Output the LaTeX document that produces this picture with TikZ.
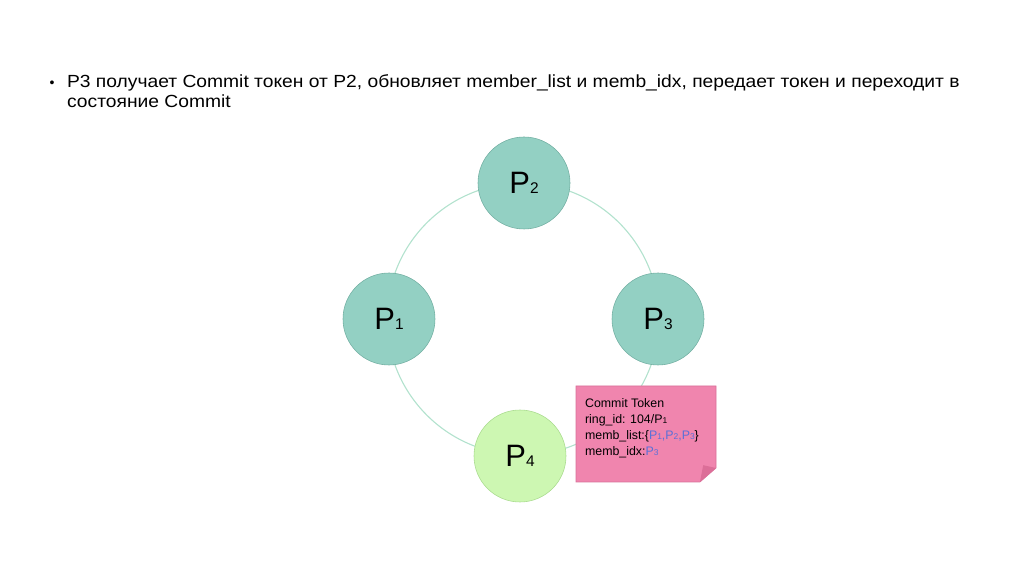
\documentclass[tikz,border=0pt]{standalone}
\usepackage{fontspec}
\setmainfont{Liberation Sans}
\newfontfamily\slidefont[FakeStretch=1.096]{Liberation Sans}
\definecolor{ringline}{HTML}{B3E2CE}
\definecolor{tealfill}{HTML}{93D0C3}
\definecolor{tealedge}{HTML}{72AFA2}
\definecolor{limefill}{HTML}{CDF7B2}
\definecolor{limeedge}{HTML}{A9DB8E}
\definecolor{notefill}{HTML}{F085AE}
\definecolor{noteedge}{HTML}{D8709A}
\definecolor{notefold}{HTML}{DC6E98}
\definecolor{tokblue}{HTML}{5A70D8}
\newcommand{\pname}[1]{P{\fontsize{11}{11}\selectfont #1}}
\newcommand{\psmall}[1]{P{\fontsize{6}{6}\selectfont #1}}
\tikzset{
  proc/.style={circle, draw=tealedge, fill=tealfill, minimum size=2.3cm, inner sep=0pt,
    font=\fontsize{22}{22}\selectfont},
  proclast/.style={proc, draw=limeedge, fill=limefill},
  ringpath/.style={draw=ringline, line width=0.8pt},
}
\begin{document}
\begin{tikzpicture}
  \useasboundingbox (0,0) rectangle (25.6,14.35);
  % bullet text
  \node[inner sep=0pt, font=\fontsize{10}{10}\selectfont] (bullet) at (1.3,12.25) {\textbullet};
  \node[anchor=north west, align=left, inner sep=0pt, font=\slidefont\fontsize{12.5}{14.3}\selectfont]
    (txt) at (1.67,12.5) {P3 получает Commit токен от P2, обновляет member\_list и memb\_idx, передает токен и переходит в\\
    состояние Commit};
  % ring
  \coordinate (ringc) at (13.075,6.375);
  \draw[ringpath] (ringc) circle (3.4);
  % processes
  \node[proc] (p2) at (13.1,9.775) {\pname{2}};
  \node[proc] (p1) at (9.725,6.375) {\pname{1}};
  \node[proc] (p3) at (16.45,6.375) {\pname{3}};
  \node[proclast] (p4) at (13.0,2.95) {\pname{4}};
  % commit token note
  \draw[noteedge, fill=notefill] (14.4,4.7) -- (17.9,4.7) -- (17.9,2.65) -- (17.5,2.3) -- (14.4,2.3) -- cycle;
  \fill[notefold] (17.9,2.65) -- (17.5,2.3) -- (17.58,2.72) -- cycle;
  \node[anchor=north west, align=left, inner sep=0pt, font=\fontsize{8.8}{11.4}\selectfont] (token) at (14.62,4.4)
    {Commit Token\\
     ring\_id: 104/\psmall{1}\\
     memb\_list:\{\textcolor{tokblue}{\psmall{1},\psmall{2},\psmall{3}}\}\\
     memb\_idx:\textcolor{tokblue}{\psmall{3}}};
\end{tikzpicture}
\end{document}
